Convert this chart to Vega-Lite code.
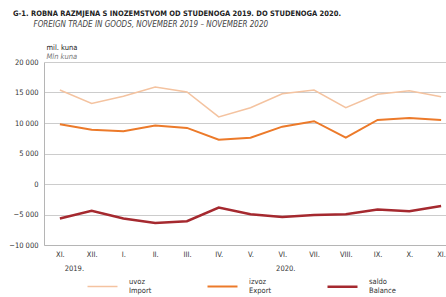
{
  "$schema": "https://vega.github.io/schema/vega-lite/v6.json",
  "width": 413,
  "height": 183,
  "autosize": "none",
  "padding": {"left": 44, "top": 62, "right": 0, "bottom": 52},
  "background": "white",
  "config": {
    "font": "Liberation Sans Narrow, DejaVu Sans Condensed, Arial Narrow, sans-serif",
    "view": {"stroke": null}
  },
  "title": {
    "text": "G-1. ROBNA RAZMJENA S INOZEMSTVOM OD STUDENOGA 2019. DO STUDENOGA 2020.",
    "anchor": "start",
    "frame": "group",
    "dx": -31,
    "offset": 3,
    "fontSize": 7.5,
    "fontWeight": "bold",
    "color": "#222222"
  },
  "data": {
    "values": [
      {"t": "2019-11", "s": "uvoz", "v": 15400},
      {"t": "2019-12", "s": "uvoz", "v": 13200},
      {"t": "2020-01", "s": "uvoz", "v": 14400},
      {"t": "2020-02", "s": "uvoz", "v": 15900},
      {"t": "2020-03", "s": "uvoz", "v": 15100},
      {"t": "2020-04", "s": "uvoz", "v": 11000},
      {"t": "2020-05", "s": "uvoz", "v": 12500},
      {"t": "2020-06", "s": "uvoz", "v": 14800},
      {"t": "2020-07", "s": "uvoz", "v": 15400},
      {"t": "2020-08", "s": "uvoz", "v": 12500},
      {"t": "2020-09", "s": "uvoz", "v": 14700},
      {"t": "2020-10", "s": "uvoz", "v": 15300},
      {"t": "2020-11", "s": "uvoz", "v": 14300},
      {"t": "2019-11", "s": "izvoz", "v": 9800},
      {"t": "2019-12", "s": "izvoz", "v": 8900},
      {"t": "2020-01", "s": "izvoz", "v": 8650},
      {"t": "2020-02", "s": "izvoz", "v": 9600},
      {"t": "2020-03", "s": "izvoz", "v": 9200},
      {"t": "2020-04", "s": "izvoz", "v": 7250},
      {"t": "2020-05", "s": "izvoz", "v": 7600},
      {"t": "2020-06", "s": "izvoz", "v": 9400},
      {"t": "2020-07", "s": "izvoz", "v": 10300},
      {"t": "2020-08", "s": "izvoz", "v": 7600},
      {"t": "2020-09", "s": "izvoz", "v": 10500},
      {"t": "2020-10", "s": "izvoz", "v": 10800},
      {"t": "2020-11", "s": "izvoz", "v": 10500},
      {"t": "2019-11", "s": "saldo", "v": -5650},
      {"t": "2019-12", "s": "saldo", "v": -4400},
      {"t": "2020-01", "s": "saldo", "v": -5650},
      {"t": "2020-02", "s": "saldo", "v": -6400},
      {"t": "2020-03", "s": "saldo", "v": -6100},
      {"t": "2020-04", "s": "saldo", "v": -3850},
      {"t": "2020-05", "s": "saldo", "v": -4950},
      {"t": "2020-06", "s": "saldo", "v": -5400},
      {"t": "2020-07", "s": "saldo", "v": -5100},
      {"t": "2020-08", "s": "saldo", "v": -4950},
      {"t": "2020-09", "s": "saldo", "v": -4200},
      {"t": "2020-10", "s": "saldo", "v": -4450},
      {"t": "2020-11", "s": "saldo", "v": -3600}
    ]
  },
  "layer": [
    {
      "mark": {"type": "line", "clip": true},
      "encoding": {
        "x": {
          "field": "t",
          "type": "ordinal",
          "sort": "ascending",
          "scale": {"type": "point", "padding": 0.5},
          "axis": {
            "title": null,
            "grid": false,
            "ticks": false,
            "domain": true,
            "domainColor": "#b5b5b5",
            "labelAngle": 0,
            "labelPadding": 5,
            "labelFontSize": 7.5,
            "labelColor": "#333333",
            "labelExpr": "['I.','II.','III.','IV.','V.','VI.','VII.','VIII.','IX.','X.','XI.','XII.'][toNumber(substring(datum.value,5,7))-1]"
          }
        },
        "y": {
          "field": "v",
          "type": "quantitative",
          "scale": {"domain": [-10000, 20000], "nice": false, "zero": false},
          "axis": {
            "values": [-10000, -5000, 0, 5000, 10000, 15000, 20000],
            "grid": true,
            "gridColor": "#cccccc",
            "gridWidth": 1,
            "ticks": false,
            "domain": true,
            "domainColor": "#b5b5b5",
            "labelPadding": 6,
            "labelFontSize": 7.5,
            "labelColor": "#333333",
            "labelExpr": "replace(format(datum.value, ','), ',', ' ')",
            "title": "mil. kuna",
            "titleAngle": 0,
            "titleAlign": "left",
            "titleBaseline": "middle",
            "titleX": 2,
            "titleY": -15,
            "titleFontSize": 7.5,
            "titleFontWeight": "normal",
            "titleColor": "#222222"
          }
        },
        "color": {
          "field": "s",
          "type": "nominal",
          "scale": {"domain": ["uvoz", "izvoz", "saldo"], "range": ["#f4c3a0", "#ec7a2a", "#a5292f"]},
          "legend": {
            "orient": "none",
            "legendX": 42,
            "legendY": 208,
            "direction": "horizontal",
            "columns": 3,
            "gridAlign": "all",
            "columnPadding": 46,
            "title": null,
            "symbolType": "stroke",
            "symbolSize": 900,
            "symbolStrokeWidth": 2.5,
            "labelOffset": 10,
            "labelFontSize": 7.5,
            "labelColor": "#333333",
            "labelExpr": "datum.label == 'uvoz' ? ['uvoz', 'Import'] : datum.label == 'izvoz' ? ['izvoz', 'Export'] : ['saldo', 'Balance']",
            "encode": {"labels": {"update": {"dy": {"value": -5}}}}
          }
        },
        "strokeWidth": {
          "field": "s",
          "type": "nominal",
          "scale": {"domain": ["uvoz", "izvoz", "saldo"], "range": [1.5, 2.5, 2.2]},
          "legend": null
        }
      }
    },
    {
      "mark": {"type": "line", "opacity": 0},
      "encoding": {
        "x": {
          "field": "t",
          "type": "ordinal",
          "sort": "ascending",
          "scale": {"type": "point", "padding": 0.5},
          "axis": {
            "orient": "bottom",
            "title": "FOREIGN TRADE IN GOODS, NOVEMBER 2019 – NOVEMBER 2020",
            "titleX": -11,
            "titleY": -221,
            "titleAlign": "left",
            "titleBaseline": "middle",
            "titleFontSize": 8,
            "titleFontStyle": "italic",
            "titleFontWeight": "normal",
            "titleColor": "#444444",
            "grid": false,
            "ticks": false,
            "domain": false,
            "labelAngle": 0,
            "labelPadding": 19,
            "labelFontSize": 7.5,
            "labelColor": "#333333",
            "labelOffset": {"condition": {"test": "datum.value == '2019-11'", "value": 14}, "value": 3},
            "labelExpr": "datum.value == '2019-11' ? '2019.' : datum.value == '2020-06' ? '2020.' : ''"
          }
        },
        "y": {
          "field": "v",
          "type": "quantitative",
          "scale": {"domain": [-10000, 20000], "nice": false, "zero": false},
          "axis": {
            "orient": "left",
            "grid": false,
            "ticks": false,
            "domain": false,
            "labels": false,
            "title": "Mln kuna",
            "titleAngle": 0,
            "titleAlign": "left",
            "titleBaseline": "middle",
            "titleX": 2,
            "titleY": -6,
            "titleFontSize": 7.5,
            "titleFontWeight": "normal",
            "titleFontStyle": "italic",
            "titleColor": "#777777"
          }
        },
        "detail": {"field": "s", "type": "nominal"}
      }
    }
  ],
  "resolve": {"scale": {"x": "independent", "y": "independent"}, "axis": {"x": "independent", "y": "independent"}}
}
